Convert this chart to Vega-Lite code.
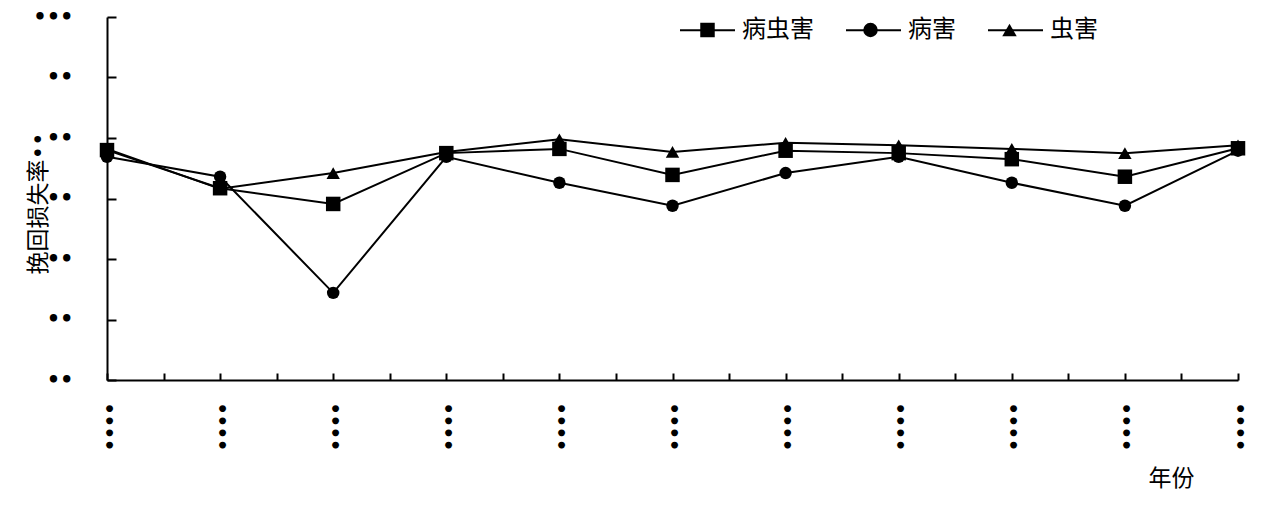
{
  "$schema": "https://vega.github.io/schema/vega-lite/v6.json",
  "autosize": {"type": "none"},
  "padding": {"left": 107, "top": 17, "right": 30, "bottom": 127},
  "width": 1131,
  "height": 363,
  "background": "white",
  "config": {
    "view": {"stroke": null},
    "font": "DejaVu Sans, Noto Sans CJK SC",
    "axis": {"grid": false, "domainColor": "black", "tickColor": "black", "labelColor": "black", "titleColor": "black", "domainWidth": 2, "tickWidth": 2, "titleFontWeight": "normal", "labelOverlap": false, "labelFlush": false, "labelBound": false}
  },
  "data": {
    "values": [
      {"year": 2003, "series": "病虫害", "value": 78.0},
      {"year": 2004, "series": "病虫害", "value": 71.7},
      {"year": 2005, "series": "病虫害", "value": 69.1},
      {"year": 2006, "series": "病虫害", "value": 77.5},
      {"year": 2007, "series": "病虫害", "value": 78.2},
      {"year": 2008, "series": "病虫害", "value": 73.9},
      {"year": 2009, "series": "病虫害", "value": 77.9},
      {"year": 2010, "series": "病虫害", "value": 77.5},
      {"year": 2011, "series": "病虫害", "value": 76.5},
      {"year": 2012, "series": "病虫害", "value": 73.6},
      {"year": 2013, "series": "病虫害", "value": 78.3},
      {"year": 2003, "series": "病害", "value": 76.9},
      {"year": 2004, "series": "病害", "value": 73.6},
      {"year": 2005, "series": "病害", "value": 54.4},
      {"year": 2006, "series": "病害", "value": 76.9},
      {"year": 2007, "series": "病害", "value": 72.6},
      {"year": 2008, "series": "病害", "value": 68.8},
      {"year": 2009, "series": "病害", "value": 74.2},
      {"year": 2010, "series": "病害", "value": 76.9},
      {"year": 2011, "series": "病害", "value": 72.6},
      {"year": 2012, "series": "病害", "value": 68.8},
      {"year": 2013, "series": "病害", "value": 77.9},
      {"year": 2003, "series": "虫害", "value": 78.2},
      {"year": 2004, "series": "虫害", "value": 71.6},
      {"year": 2005, "series": "虫害", "value": 74.2},
      {"year": 2006, "series": "虫害", "value": 77.7},
      {"year": 2007, "series": "虫害", "value": 79.8},
      {"year": 2008, "series": "虫害", "value": 77.7},
      {"year": 2009, "series": "虫害", "value": 79.2},
      {"year": 2010, "series": "虫害", "value": 78.8},
      {"year": 2011, "series": "虫害", "value": 78.2},
      {"year": 2012, "series": "虫害", "value": 77.5},
      {"year": 2013, "series": "虫害", "value": 78.8}
    ]
  },
  "encoding": {
    "x": {
      "field": "year", "type": "quantitative",
      "scale": {"domain": [2003, 2013], "nice": false, "zero": false},
      "axis": {
        "title": "年份",
        "values": [2003, 2003.5, 2004, 2004.5, 2005, 2005.5, 2006, 2006.5, 2007, 2007.5, 2008, 2008.5, 2009, 2009.5, 2010, 2010.5, 2011, 2011.5, 2012, 2012.5, 2013],
        "labelExpr": "datum.value % 1 == 0 ? '••••' : ''",
        "labelAngle": 90,
        "labelAlign": "left",
        "labelBaseline": "middle",
        "labelFont": "DejaVu Sans",
        "labelFontWeight": "bold",
        "labelFontSize": 19,
        "labelPadding": 29,
        "tickSize": -7,
        "titleX": 1064,
        "titleY": 98,
        "titleAlign": "center",
        "titleBaseline": "middle",
        "titleFontSize": 23,
        "titleFont": "Noto Sans CJK SC"
      }
    },
    "y": {
      "field": "value", "type": "quantitative",
      "scale": {"domain": [40, 100], "nice": false, "zero": false},
      "axis": {
        "title": "挽回损失率••",
        "values": [40, 50, 60, 70, 80, 90, 100],
        "labelExpr": "datum.value >= 100 ? '•••' : '••'",
        "labelFont": "DejaVu Sans",
        "labelFontWeight": "bold",
        "labelFontSize": 21,
        "labelPadding": 43,
        "tickSize": -9,
        "titleX": -69,
        "titleY": 186,
        "titleAngle": -90,
        "titleAlign": "center",
        "titleBaseline": "middle",
        "titleFontSize": 23,
        "titleFont": "DejaVu Sans, Noto Sans CJK SC"
      }
    }
  },
  "layer": [
    {
      "mark": {"type": "line", "strokeWidth": 2},
      "encoding": {
        "color": {
          "field": "series", "type": "nominal",
          "sort": ["病虫害", "病害", "虫害"],
          "scale": {"range": ["black", "black", "black"]},
          "legend": {
            "title": null,
            "orient": "none",
            "legendX": 572,
            "legendY": -15.5,
            "direction": "horizontal",
            "symbolType": "stroke",
            "symbolSize": 3025,
            "symbolStrokeWidth": 2,
            "labelFont": "Noto Sans CJK SC",
            "labelFontSize": 24,
            "labelColor": "black",
            "labelOffset": 6,
            "columnPadding": 28,
            "labelLimit": 300
          }
        }
      }
    },
    {
      "transform": [{"filter": "datum.series == '病虫害'"}],
      "mark": {"type": "point", "shape": "square", "filled": true, "color": "black", "opacity": 1, "size": 210}
    },
    {
      "transform": [{"filter": "datum.series == '病害'"}],
      "mark": {"type": "point", "shape": "circle", "filled": true, "color": "black", "opacity": 1, "size": 155}
    },
    {
      "transform": [{"filter": "datum.series == '虫害'"}],
      "mark": {"type": "point", "shape": "triangle-up", "filled": true, "color": "black", "opacity": 1, "size": 180}
    },
    {
      "data": {"values": []},
      "mark": {"type": "point", "filled": true, "color": "black", "opacity": 1},
      "encoding": {
        "x": {"field": "year", "type": "quantitative"},
        "y": {"field": "value", "type": "quantitative"},
        "shape": {
          "field": "series", "type": "nominal",
          "scale": {
            "domain": ["病虫害", "病害", "虫害"],
            "range": ["square", "circle", "triangle-up"]
          },
          "legend": {
            "title": null,
            "orient": "none",
            "legendX": 588.5,
            "legendY": 1,
            "direction": "horizontal",
            "symbolSize": 210,
            "symbolOpacity": 1,
            "symbolFillColor": "black",
            "labelFont": "Noto Sans CJK SC",
            "labelFontSize": 24,
            "labelOpacity": 0,
            "labelOffset": 39,
            "columnPadding": 28,
            "labelLimit": 300
          }
        }
      }
    }
  ]
}
